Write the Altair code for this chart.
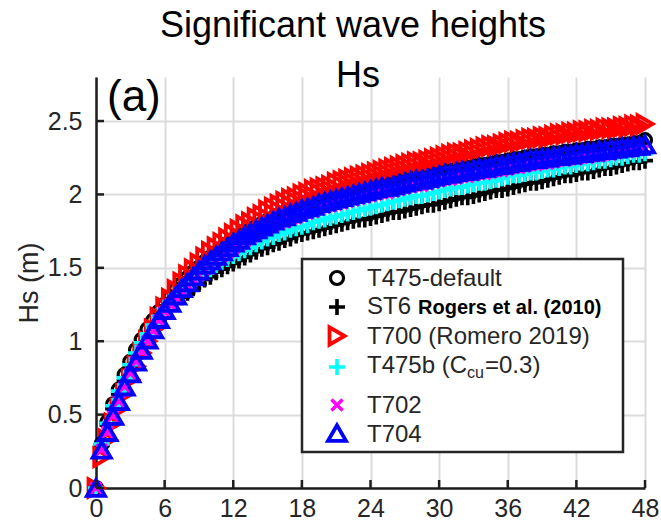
import altair as alt
import pandas as pd

FONT = "Liberation Sans"

# ---------------- data ----------------
time_h = [h / 2 for h in range(97)]  # model output every 0.5 h, 0..48 h

t475_default = [
    0.00, 0.30, 0.45, 0.57, 0.67, 0.77, 0.86, 0.94, 1.01, 1.08, 1.14, 1.20,
    1.25, 1.30, 1.35, 1.39, 1.43, 1.47, 1.50, 1.54, 1.57, 1.60, 1.63, 1.66,
    1.69, 1.71, 1.74, 1.76, 1.78, 1.80, 1.82, 1.84, 1.86, 1.87, 1.89, 1.90,
    1.92, 1.93, 1.94, 1.96, 1.97, 1.98, 1.99, 2.00, 2.01, 2.02, 2.03, 2.04,
    2.05, 2.06, 2.07, 2.07, 2.08, 2.09, 2.10, 2.11, 2.12, 2.12, 2.13, 2.14,
    2.15, 2.16, 2.16, 2.17, 2.18, 2.18, 2.19, 2.20, 2.20, 2.21, 2.22, 2.22,
    2.23, 2.24, 2.24, 2.25, 2.26, 2.26, 2.27, 2.27, 2.28, 2.28, 2.29, 2.29,
    2.30, 2.30, 2.31, 2.31, 2.32, 2.32, 2.33, 2.33, 2.34, 2.34, 2.35, 2.35,
    2.37,
]
st6 = [
    0.00, 0.29, 0.43, 0.54, 0.64, 0.73, 0.82, 0.89, 0.96, 1.02, 1.08, 1.13,
    1.18, 1.22, 1.26, 1.30, 1.33, 1.36, 1.39, 1.42, 1.44, 1.47, 1.49, 1.51,
    1.53, 1.55, 1.57, 1.59, 1.61, 1.63, 1.64, 1.66, 1.67, 1.69, 1.70, 1.72,
    1.73, 1.74, 1.75, 1.76, 1.77, 1.78, 1.79, 1.80, 1.81, 1.82, 1.83, 1.83,
    1.84, 1.85, 1.86, 1.87, 1.88, 1.88, 1.89, 1.90, 1.91, 1.92, 1.93, 1.93,
    1.94, 1.95, 1.96, 1.97, 1.98, 1.98, 1.99, 2.00, 2.01, 2.02, 2.03, 2.03,
    2.04, 2.05, 2.06, 2.07, 2.08, 2.08, 2.09, 2.10, 2.11, 2.12, 2.13, 2.13,
    2.14, 2.15, 2.15, 2.16, 2.17, 2.18, 2.18, 2.19, 2.20, 2.21, 2.22, 2.22,
    2.23,
]
t700 = [
    0.00, 0.21, 0.33, 0.44, 0.54, 0.64, 0.74, 0.83, 0.92, 1.00, 1.08, 1.16,
    1.23, 1.29, 1.35, 1.40, 1.45, 1.49, 1.53, 1.57, 1.61, 1.64, 1.67, 1.70,
    1.73, 1.76, 1.79, 1.81, 1.84, 1.86, 1.89, 1.91, 1.93, 1.95, 1.97, 1.98,
    2.00, 2.01, 2.03, 2.04, 2.05, 2.06, 2.08, 2.09, 2.10, 2.11, 2.12, 2.13,
    2.14, 2.15, 2.16, 2.17, 2.18, 2.19, 2.20, 2.21, 2.22, 2.22, 2.23, 2.24,
    2.25, 2.26, 2.27, 2.28, 2.28, 2.29, 2.30, 2.31, 2.32, 2.33, 2.33, 2.34,
    2.35, 2.36, 2.36, 2.37, 2.38, 2.38, 2.39, 2.39, 2.40, 2.41, 2.41, 2.42,
    2.42, 2.43, 2.43, 2.44, 2.44, 2.45, 2.45, 2.45, 2.46, 2.46, 2.47, 2.47,
    2.48,
]
t475b = [
    0.00, 0.30, 0.44, 0.56, 0.66, 0.75, 0.84, 0.92, 0.99, 1.05, 1.11, 1.17,
    1.22, 1.27, 1.31, 1.35, 1.38, 1.41, 1.44, 1.47, 1.49, 1.52, 1.54, 1.56,
    1.58, 1.60, 1.62, 1.64, 1.66, 1.68, 1.70, 1.71, 1.73, 1.74, 1.76, 1.77,
    1.78, 1.79, 1.81, 1.82, 1.83, 1.84, 1.85, 1.86, 1.87, 1.88, 1.89, 1.90,
    1.91, 1.92, 1.93, 1.94, 1.95, 1.96, 1.97, 1.98, 1.99, 1.99, 2.00, 2.01,
    2.02, 2.03, 2.04, 2.05, 2.05, 2.06, 2.07, 2.08, 2.08, 2.09, 2.10, 2.11,
    2.12, 2.13, 2.13, 2.14, 2.15, 2.15, 2.16, 2.17, 2.17, 2.18, 2.19, 2.19,
    2.20, 2.21, 2.21, 2.22, 2.23, 2.23, 2.24, 2.25, 2.25, 2.26, 2.27, 2.27,
    2.28,
]
t702 = [
    0.00, 0.26, 0.38, 0.49, 0.59, 0.69, 0.78, 0.86, 0.93, 1.00, 1.07, 1.14,
    1.20, 1.25, 1.29, 1.34, 1.38, 1.42, 1.45, 1.49, 1.52, 1.55, 1.58, 1.60,
    1.63, 1.65, 1.68, 1.70, 1.72, 1.74, 1.76, 1.78, 1.80, 1.81, 1.83, 1.84,
    1.86, 1.87, 1.88, 1.90, 1.91, 1.92, 1.93, 1.94, 1.95, 1.96, 1.97, 1.98,
    1.99, 2.00, 2.01, 2.01, 2.02, 2.03, 2.04, 2.05, 2.06, 2.06, 2.07, 2.08,
    2.09, 2.10, 2.10, 2.11, 2.12, 2.12, 2.13, 2.14, 2.14, 2.15, 2.16, 2.16,
    2.17, 2.18, 2.18, 2.19, 2.20, 2.20, 2.21, 2.21, 2.22, 2.23, 2.23, 2.24,
    2.24, 2.25, 2.25, 2.26, 2.26, 2.27, 2.27, 2.28, 2.29, 2.29, 2.30, 2.30,
    2.31,
]
t704 = [
    0.00, 0.26, 0.38, 0.49, 0.59, 0.69, 0.78, 0.86, 0.94, 1.01, 1.08, 1.15,
    1.21, 1.26, 1.31, 1.36, 1.40, 1.44, 1.48, 1.52, 1.55, 1.58, 1.61, 1.64,
    1.67, 1.69, 1.72, 1.74, 1.76, 1.78, 1.80, 1.82, 1.84, 1.85, 1.87, 1.88,
    1.90, 1.91, 1.92, 1.94, 1.95, 1.96, 1.97, 1.98, 1.99, 2.00, 2.01, 2.02,
    2.03, 2.04, 2.05, 2.05, 2.06, 2.07, 2.08, 2.09, 2.10, 2.10, 2.11, 2.12,
    2.13, 2.14, 2.14, 2.15, 2.16, 2.16, 2.17, 2.18, 2.18, 2.19, 2.20, 2.20,
    2.21, 2.22, 2.22, 2.23, 2.24, 2.24, 2.25, 2.25, 2.26, 2.26, 2.27, 2.27,
    2.28, 2.28, 2.29, 2.29, 2.30, 2.30, 2.31, 2.31, 2.32, 2.32, 2.33, 2.33,
    2.34,
]

x_ticks = [0, 6, 12, 18, 24, 30, 36, 42, 48]
y_ticks = [0, 0.5, 1, 1.5, 2, 2.5]

series_names = ["T475-default", "ST6", "T700", "T475b", "T702", "T704"]
series_values = [t475_default, st6, t700, t475b, t702, t704]

# ---------------- build table ----------------
rows = []
for name, vals in zip(series_names, series_values):
    for t, v in zip(time_h, vals):
        rows.append({"model": name, "t": t, "hs": v})
df = pd.DataFrame(rows)
xt = pd.DataFrame({"v": x_ticks})
yt = pd.DataFrame({"v": y_ticks})
one = pd.DataFrame({"k": [0]})

# ---------------- styling ----------------
W, H = 549, 411
PLUS = "M-1,0L1,0M0,-1L0,1"
XMARK = "M-0.75,-0.75L0.75,0.75M-0.75,0.75L0.75,-0.75"
styles = {
    "T475-default": dict(shape="circle", color="#000000", size=170, sw=3.2),
    "ST6": dict(shape=PLUS, color="#000000", size=256, sw=3.6),
    "T700": dict(shape="triangle-right", color="#ff0000", size=300, sw=3.8),
    "T475b": dict(shape=PLUS, color="#00ffff", size=256, sw=3.6),
    "T702": dict(shape=XMARK, color="#ff00ff", size=220, sw=3.4),
    "T704": dict(shape="triangle-up", color="#0000ff", size=324, sw=3.8),
}

xscale = alt.Scale(domain=[0, 48], nice=False, zero=False)
yscale = alt.Scale(domain=[0, 2.8], nice=False, zero=False)
common_axis = dict(
    grid=True, gridColor="#dcdcdc", gridWidth=2,
    domainColor="#1e1e1e", domainWidth=2.5,
    ticks=False, tickSize=0,
    labelColor="#262626", labelFont=FONT, labelFontSize=25,
)
xaxis = alt.Axis(values=x_ticks, format="d", labelPadding=8, labelFlush=False,
                 title=None, **common_axis)
yaxis = alt.Axis(values=y_ticks, format="~g", labelPadding=14, labelFlush=False,
                 title="Hs (m)", titleFont=FONT, titleFontSize=27,
                 titleFontWeight="normal", titleColor="#262626", titlePadding=4,
                 **common_axis)

X = lambda f: alt.X(f, type="quantitative", scale=xscale, axis=xaxis)
Y = lambda f: alt.Y(f, type="quantitative", scale=yscale, axis=yaxis)

layers = []
for name in series_names:
    s = styles[name]
    layers.append(
        alt.Chart(df).transform_filter(alt.datum.model == name)
        .mark_point(shape=s["shape"], filled=False, color=s["color"], size=s["size"],
                    strokeWidth=s["sw"], opacity=1)
        .encode(x=X("t"), y=Y("hs"))
    )

# inward ticks
layers.append(
    alt.Chart(xt).mark_rule(color="#1e1e1e", strokeWidth=2.5)
    .encode(x=X("v"), y=alt.value(H), y2=alt.value(H - 8))
)
layers.append(
    alt.Chart(yt).mark_rule(color="#1e1e1e", strokeWidth=2.5)
    .encode(y=Y("v"), x=alt.value(0), x2=alt.value(8))
)


def txt(s, x, y, size, weight="normal", color="#262626", align="left"):
    return alt.Chart(one).mark_text(
        text=s, align=align, baseline="alphabetic", fontSize=size,
        fontWeight=weight, color=color, font=FONT
    ).encode(x=alt.value(x), y=alt.value(y))


def sym(name, x, y):
    s = styles[name]
    return alt.Chart(one).mark_point(
        shape=s["shape"], filled=False, color=s["color"], size=s["size"],
        strokeWidth=s["sw"], opacity=1
    ).encode(x=alt.value(x), y=alt.value(y))


# legend box
layers.append(
    alt.Chart(one).mark_rect(fill="white", stroke="#262626", strokeWidth=2.5)
    .encode(x=alt.value(206), x2=alt.value(527), y=alt.value(182), y2=alt.value(375))
)
sym_y = [201, 230, 259, 290, 328, 356]
txt_y = [209, 237, 267, 296, 336, 365]
for name, sy in zip(series_names, sym_y):
    layers.append(sym(name, 241, sy))
TX = 271
layers.append(txt("T475-default", TX, txt_y[0], 24))
layers.append(txt("ST6", TX, txt_y[1], 24))
layers.append(txt("Rogers et al. (2010)", 322, txt_y[1], 20, weight="bold", color="#000000"))
layers.append(txt("T700 (Romero 2019)", TX, txt_y[2], 24))
layers.append(txt("T475b (C", TX, txt_y[3], 24))
layers.append(txt("cu", TX + 100, txt_y[3] + 5, 16))
layers.append(txt("=0.3)", TX + 118, txt_y[3], 24))
layers.append(txt("T702", TX, txt_y[4], 24))
layers.append(txt("T704", TX, txt_y[5], 24))

# panel label and title
layers.append(txt("(a)", 11, 34, 44, color="#000000"))
layers.append(txt("Significant wave heights", 257, -40, 36, color="#000000", align="center"))
layers.append(txt("Hs", 262, 10, 36, color="#000000", align="center"))

chart = (
    alt.layer(*layers)
    .properties(
        width=W, height=H,
        padding={"left": 96, "top": 77, "right": 16, "bottom": 39},
        autosize=alt.AutoSizeParams(type="none"),
        background="white",
    )
    .configure_view(stroke=None)
)

chart.save("out.html", embed_options={"renderer": "svg", "actions": False})
